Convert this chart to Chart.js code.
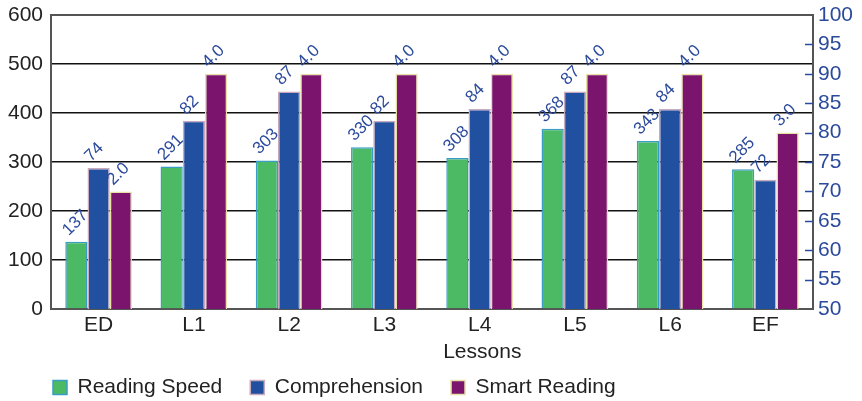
<!DOCTYPE html>
<html>
<head>
<meta charset="utf-8">
<script src="https://cdn.jsdelivr.net/npm/chart.js@4.4.1/dist/chart.umd.min.js"></script>
<style>
  html, body { margin: 0; padding: 0; background: #fff; }
  #wrap { width: 862px; height: 401px; }
</style>
</head>
<body>
<div id="wrap"><canvas id="chart" width="862" height="401"></canvas></div>
<script>
// Lessons on the category axis
const categories = ['ED', 'L1', 'L2', 'L3', 'L4', 'L5', 'L6', 'EF'];
// Reading speed (left axis, 0-600)
const readingSpeed = [137, 291, 303, 330, 308, 368, 343, 285];
// Comprehension (right axis, 50-100)
const comprehension = [74, 82, 87, 82, 84, 87, 84, 72];
// Smart reading score (own hidden axis, 0-5)
const smartReading = [2.0, 4.0, 4.0, 4.0, 4.0, 4.0, 4.0, 3.0];

const FONT = '"Liberation Sans", Arial, Helvetica, sans-serif';
const LABEL_BLUE = '#2b4a9c';
const FRAME = '#555555';
const TEXT = '#222222';

// Rotated value labels above each bar
const valueLabels = {
  id: 'valueLabels',
  afterDatasetsDraw(chart) {
    const ctx = chart.ctx;
    ctx.save();
    ctx.font = '17px ' + FONT;
    ctx.fillStyle = LABEL_BLUE;
    ctx.textAlign = 'left';
    ctx.textBaseline = 'middle';
    chart.data.datasets.forEach((ds, di) => {
      const meta = chart.getDatasetMeta(di);
      meta.data.forEach((bar, i) => {
        const v = ds.data[i];
        const txt = ds.decimals ? v.toFixed(ds.decimals) : String(v);
        ctx.save();
        ctx.translate(bar.x - 11, bar.y - 9);
        ctx.rotate(-Math.PI / 4);
        ctx.fillText(txt, 0, 0);
        ctx.restore();
      });
    });
    ctx.restore();
  }
};

// Legend sizing/offset, inward right-axis ticks and the x-axis title
const axisExtras = {
  id: 'axisExtras',
  afterInit(chart) {
    const lg = chart.legend;
    if (lg && !lg._fitWrapped) {
      const fit = lg.fit.bind(lg);
      lg.fit = function () { fit(); this.height = 52; };
      lg._fitWrapped = true;
    }
  },
  afterLayout(chart) {
    if (chart.legend) chart.legend.left = 25;
  },
  afterDraw(chart) {
    const ctx = chart.ctx;
    const y1 = chart.scales.y1;
    ctx.save();
    ctx.strokeStyle = LABEL_BLUE;
    ctx.lineWidth = 1.5;
    y1.ticks.forEach(t => {
      if (t.value <= y1.min || t.value >= y1.max) return;
      const py = Math.round(y1.getPixelForValue(t.value)) + 0.5;
      ctx.beginPath();
      ctx.moveTo(y1.left - 8, py);
      ctx.lineTo(y1.left, py);
      ctx.stroke();
    });
    const xs = chart.scales.x;
    ctx.font = '21px ' + FONT;
    ctx.fillStyle = TEXT;
    ctx.textAlign = 'center';
    ctx.textBaseline = 'middle';
    ctx.fillText('Lessons', xs.left + (xs.right - xs.left) * 0.566, 352);
    ctx.restore();
  }
};

// Vertical axes: fixed width, no extra label overflow padding
const fixVertical = w => s => { s.width = w; s.paddingTop = 0; s.paddingBottom = 0; };

new Chart(document.getElementById('chart'), {
  type: 'bar',
  data: {
    labels: categories,
    datasets: [
      {
        label: 'Reading Speed',
        data: readingSpeed,
        yAxisID: 'y',
        backgroundColor: '#4cb964',
        borderColor: '#3a9ec4',
        borderWidth: 1.5
      },
      {
        label: 'Comprehension',
        data: comprehension,
        yAxisID: 'y1',
        backgroundColor: '#2150a0',
        borderColor: '#c9a9bd',
        borderWidth: 1.5
      },
      {
        label: 'Smart Reading',
        data: smartReading,
        decimals: 1,
        yAxisID: 'y2',
        backgroundColor: '#7b146d',
        borderColor: '#e6e2a6',
        borderWidth: 1.5
      }
    ]
  },
  options: {
    responsive: false,
    animation: false,
    events: [],
    layout: { padding: { top: 15, left: 0, right: 0, bottom: 0 } },
    datasets: {
      bar: { categoryPercentage: 0.7, barPercentage: 1.0 }
    },
    plugins: {
      tooltip: { enabled: false },
      legend: {
        position: 'bottom',
        align: 'start',
        labels: {
          boxWidth: 14,
          boxHeight: 14,
          padding: 28,
          color: TEXT,
          font: { family: FONT, size: 21 }
        }
      }
    },
    scales: {
      x: {
        afterFit(s) { s.height = 40; s.paddingLeft = 0; s.paddingRight = 0; },
        grid: { display: false, drawTicks: false },
        border: { display: true, color: FRAME, width: 2 },
        ticks: { padding: 4, color: TEXT, font: { family: FONT, size: 21 } }
      },
      y: {
        position: 'left',
        min: 0,
        max: 600,
        afterFit: fixVertical(51),
        ticks: { stepSize: 100, padding: 8, color: TEXT, font: { family: FONT, size: 21 } },
        grid: {
          drawTicks: false,
          color: c => (c.tick.value === 600 ? FRAME : '#111'),
          lineWidth: c => (c.tick.value === 600 ? 2 : 1.5)
        },
        border: { display: true, color: FRAME, width: 2 }
      },
      y1: {
        position: 'right',
        min: 50,
        max: 100,
        afterFit: fixVertical(49),
        ticks: { stepSize: 5, padding: 5, color: LABEL_BLUE, font: { family: FONT, size: 21 } },
        grid: { drawOnChartArea: false, drawTicks: false },
        border: { display: true, color: FRAME, width: 2 }
      },
      y2: {
        display: false,
        min: 0,
        max: 5
      }
    }
  },
  plugins: [valueLabels, axisExtras]
});
</script>
</body>
</html>
